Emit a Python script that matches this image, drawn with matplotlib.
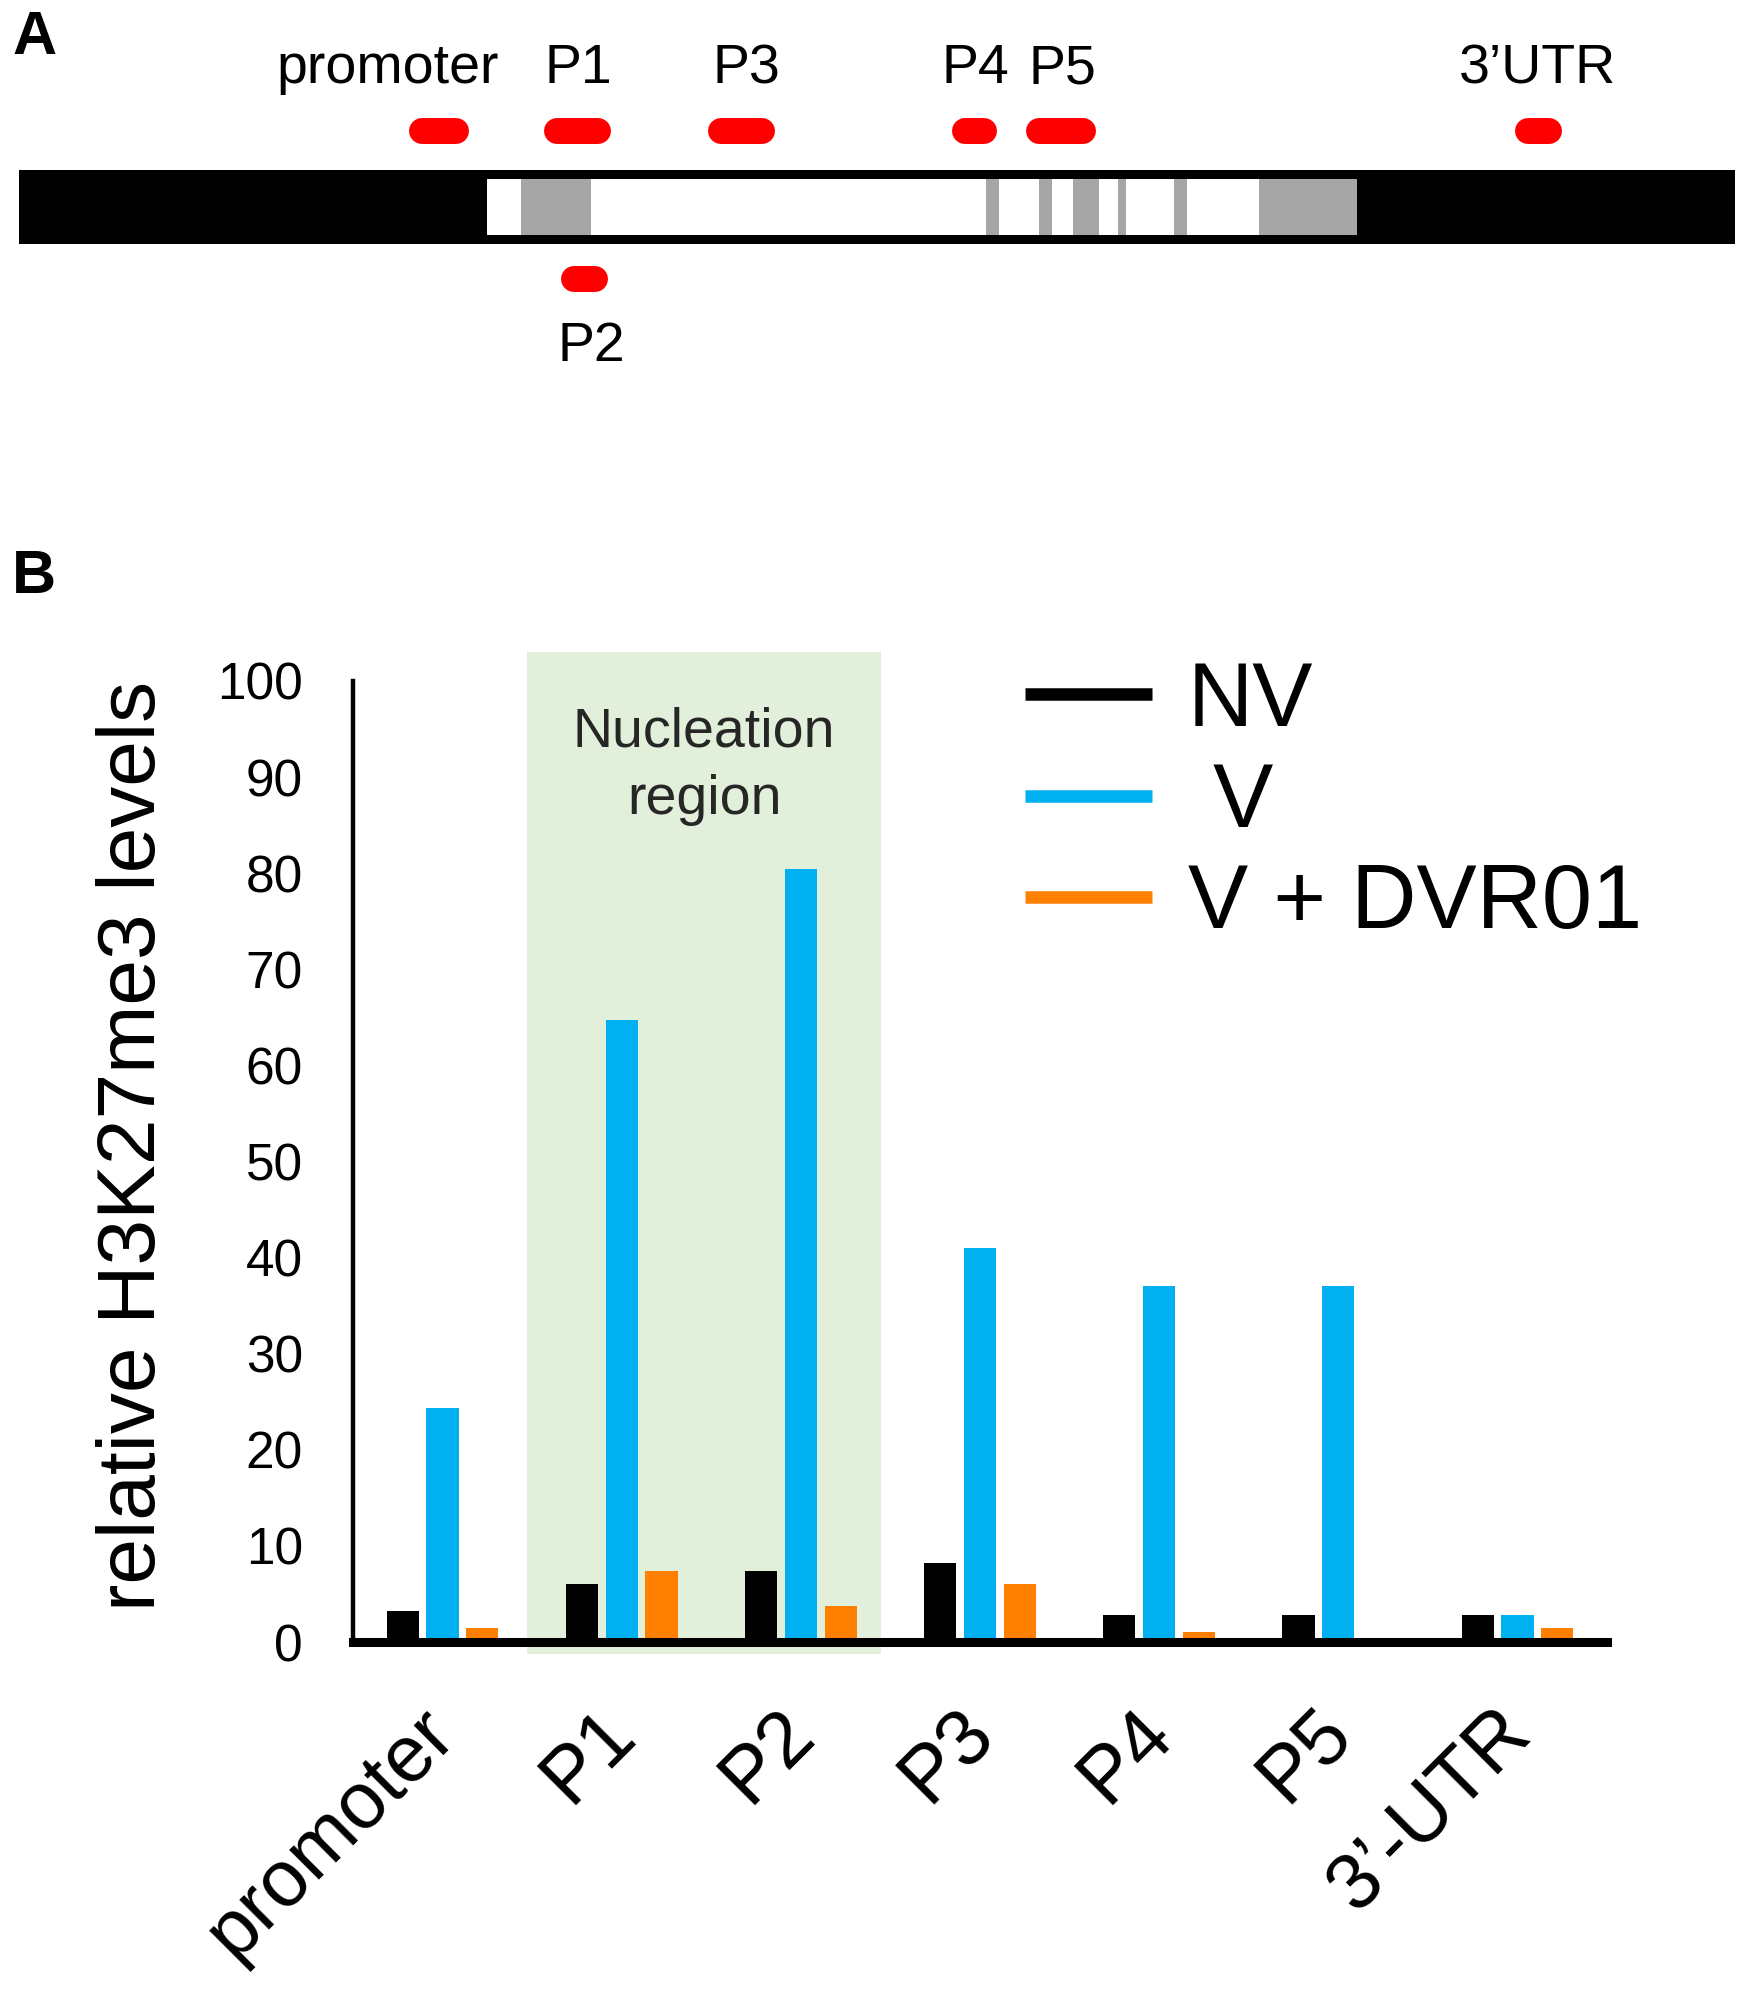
import numpy as np
import matplotlib.pyplot as plt
import matplotlib.transforms as mtransforms
from matplotlib.lines import Line2D
from matplotlib.patches import Rectangle

plt.rcParams['font.family'] = ['Liberation Sans', 'DejaVu Sans']

# ---- data ----
# panel A: gene model (pixel positions along the drawn locus)
locus = (19, 1735)
gene_body = (487, 1357)
exons = [(521, 591), (986, 999), (1039, 1052), (1073, 1099),
         (1118, 1126), (1174, 1187), (1259, 1357)]
probe_names = ['promoter', 'P1', 'P3', 'P4', 'P5', '3’UTR', 'P2']
probe_spans = [(409, 469), (544, 611), (708, 775), (952, 997),
               (1026, 1096), (1515, 1562), (561, 608)]
probe_label_x = [388, 578, 746, 975, 1062, 1537, 591]
probe_below = [False, False, False, False, False, False, True]

# panel B: ChIP values
regions = ['promoter', 'P1', 'P2', 'P3', 'P4', 'P5', '3’-UTR']
nv = [3.2, 6.0, 7.4, 8.2, 2.8, 2.8, 2.8]
v = [24.4, 64.7, 80.4, 41.0, 37.0, 37.0, 2.8]
v_dvr = [1.5, 7.4, 3.7, 6.0, 1.0, 0.0, 1.5]
series_names = ['NV', ' V', 'V + DVR01']
colors = ['black', '#00B0F0', '#FF8000']
nucleation = (0.47, 2.45)

W, H = 1742, 1996
fig = plt.figure(figsize=(W / 100, H / 100), dpi=100)

# ---- panel A ----
axa = fig.add_axes([0, 1 - 400 / H, 1, 400 / H])
axa.set_xlim(0, W)
axa.set_ylim(400, 0)
axa.axis('off')

axa.add_patch(Rectangle((locus[0], 170), locus[1] - locus[0], 74, color='black', lw=0))
axa.add_patch(Rectangle((gene_body[0], 179), gene_body[1] - gene_body[0], 56, color='white', lw=0))
for s, e in exons:
    axa.add_patch(Rectangle((s, 179), e - s, 56, color='#A6A6A6', lw=0))

for name, (s, e), lx, below in zip(probe_names, probe_spans, probe_label_x, probe_below):
    yc = 278.5 if below else 131
    axa.plot([s + 13, e - 13], [yc, yc], color='red', lw=18.7, solid_capstyle='round')
    ly = 361 if below else 83
    axa.text(lx, ly, name, ha='center', va='baseline', fontsize=40)

fig.text(12 / W, 1 - 54 / H, 'A', fontsize=44, fontweight='bold', va='baseline')
fig.text(12 / W, 1 - 593 / H, 'B', fontsize=44, fontweight='bold', va='baseline')

# ---- panel B ----
axb = fig.add_axes([353 / W, (H - 1642) / H, 1254 / W, 961 / H])
x = np.arange(len(regions))
w = 0.18
off = 0.222

axb.add_patch(Rectangle((nucleation[0], -1.2), nucleation[1] - nucleation[0], 104.2,
                        color='#E2EFDA', lw=0, zorder=0, clip_on=False))
axb.text(np.mean(nucleation), 97.35, 'Nucleation\nregion', ha='center', va='top',
         fontsize=40, color='#262626', linespacing=1.38)

for vals, c, k in zip([nv, v, v_dvr], colors, [-1, 0, 1]):
    axb.bar(x + k * off, vals, w, color=c, zorder=1)

axb.set_xlim(-0.5, 6.5)
axb.set_ylim(0, 100)
axb.set_yticks(np.arange(0, 101, 10))
axb.set_xticks(x, regions, rotation=45, ha='right')
axb.tick_params(axis='y', length=0, pad=36, labelsize=37)
axb.tick_params(axis='x', length=0, pad=38, labelsize=57)
shift = mtransforms.ScaledTranslation(28 / 100, 0, fig.dpi_scale_trans)
for lab in axb.get_xticklabels():
    lab.set_transform(lab.get_transform() + shift)
for side in ['top', 'right']:
    axb.spines[side].set_visible(False)
axb.spines['left'].set_linewidth(3.2)
axb.spines['bottom'].set_linewidth(6.5)

axb.set_ylabel('relative H3K27me3 levels', fontsize=59)
axb.yaxis.set_label_coords(-0.144, 0.516)

handles = [Line2D([], [], color=c, lw=9, solid_capstyle='butt') for c in colors]
axb.legend(handles, series_names, loc='upper left', bbox_to_anchor=(0.536, 1.022),
           frameon=False, fontsize=65, handlelength=1.40, handletextpad=0.40,
           labelspacing=0.18, borderpad=0, borderaxespad=0)

fig.savefig('out.png', dpi=100)
